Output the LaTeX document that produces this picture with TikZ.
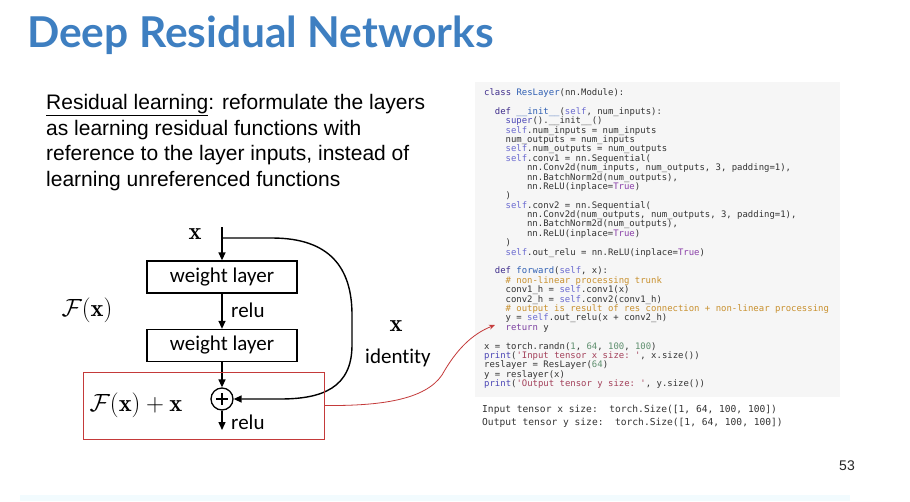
\documentclass[tikz,border=0pt]{standalone}
\usepackage{fontspec}
\usetikzlibrary{arrows.meta}
\newfontfamily\titlefont{Lato}
\newfontfamily\bodyfont{Liberation Sans}
\newfontfamily\labfont{Carlito}[Ligatures=NoCommon]
\setmonofont{DejaVu Sans Mono}
\definecolor{titleblue}{HTML}{3E7FC1}
\definecolor{codebg}{HTML}{F6F6F6}
\definecolor{codetxt}{HTML}{333333}
\definecolor{ckw}{HTML}{3F2D8C}
\definecolor{cnm}{HTML}{2F5FB3}
\definecolor{cself}{HTML}{6A6AD0}
\definecolor{ctrue}{HTML}{8A3FA8}
\definecolor{ccom}{HTML}{C8902E}
\definecolor{cnum}{HTML}{5E8F6E}
\definecolor{cstr}{HTML}{A3405A}
\definecolor{cbi}{HTML}{4A45B5}
\definecolor{cret}{HTML}{7B3FA0}
\definecolor{redbox}{HTML}{C43A3A}
\newcommand\cKw[1]{\textcolor{ckw}{#1}}
\newcommand\cNm[1]{\textcolor{cnm}{#1}}
\newcommand\cSelf[1]{\textcolor{cself}{#1}}
\newcommand\cTrue[1]{\textcolor{ctrue}{#1}}
\newcommand\cCom[1]{\textcolor{ccom}{#1}}
\newcommand\cNum[1]{\textcolor{cnum}{#1}}
\newcommand\cStr[1]{\textcolor{cstr}{#1}}
\newcommand\cBi[1]{\textcolor{cbi}{#1}}
\newcommand\cRet[1]{\textcolor{cret}{#1}}
\newcommand\codeln[4]{\node[codeline] (#1) at ({484+5.36*#2},{95.5+9.39*#3}) {#4};}
\tikzset{
  codeline/.style={anchor=base west, inner sep=0pt, text=codetxt,
    font=\ttfamily\fontsize{8.95}{9.4}\selectfont},
  outline/.style={anchor=base west, inner sep=0pt, text=codetxt,
    font=\ttfamily\fontsize{9.6}{12}\selectfont},
  bodyline/.style={anchor=base west, inner sep=0pt, text=black,
    font=\bodyfont\fontsize{21}{24}\selectfont},
  wlayer/.style={draw, line width=1.3pt, minimum width=150pt, minimum height=32pt,
    inner sep=0pt, font=\labfont\fontsize{21}{22}\selectfont},
  lab/.style={inner sep=0pt, font=\labfont\fontsize{21}{22}\selectfont},
  flow/.style={line width=1.4pt, -{Triangle[length=8pt,width=7pt]}},
  mathlab/.style={inner sep=0pt, font=\fontsize{24.5}{26}\selectfont}
}
\begin{document}
\begin{tikzpicture}[x=1pt,y=-1pt]
\fill[white] (0,0) rectangle (910,501);
\useasboundingbox (0,0) rectangle (910,501);
\fill[cyan!5] (20,495) rectangle (850,501);

% title
\node[anchor=base west, inner sep=0pt, text=titleblue,
  font=\titlefont\bfseries\fontsize{42.5}{44}\selectfont] (title) at (27,47) {Deep Residual Networks};

% paragraph
\node[bodyline] (p1) at (46,109) {\underline{Residual learning}: reformulate the layers};
\node[bodyline] (p2) at (46,135) {as learning residual functions with};
\node[bodyline] (p3) at (46,160) {reference to the layer inputs, instead of};
\node[bodyline] (p4) at (46,186) {learning unreferenced functions};

% code panel background
\fill[codebg] (475,82) rectangle (840,397);

% residual block
\coordinate (xin) at (222,227);
\coordinate (split) at (222,238);
\node[mathlab] (xlab) at (195,234) {$\mathbf{x}$};
\node[wlayer] (w1) at (222,277) {weight layer};
\node[wlayer] (w2) at (222,345.5) {weight layer};
\node[draw, circle, line width=1.3pt, minimum size=22pt, inner sep=0pt] (plus) at (222,399) {};
\draw[line width=1.3pt] ([xshift=-6pt]plus.center) -- ([xshift=6pt]plus.center);
\draw[line width=1.3pt] ([yshift=-6pt]plus.center) -- ([yshift=6pt]plus.center);
\coordinate (out) at (222,430);
\draw[flow] (xin) -- (w1.north);
\draw[flow] (w1.south) -- (w2.north);
\draw[flow] (w2.south) -- (plus.north);
\draw[flow] (plus.south) -- (out);
\draw[flow] (split) -- (272,238) .. controls (330,238) and (352,268) .. (352,315)
  -- (352,345) .. controls (352,388) and (322,399) .. (280,399) -- (plus.east);
\node[lab, anchor=west] (relu1) at (231,310) {relu};
\node[lab, anchor=west] (relu2) at (231,422) {relu};
\node[mathlab] (fx) at (87,310) {$\mathcal{F}(\mathbf{x})$};
\node[mathlab] (fxx) at (136,405) {$\mathcal{F}(\mathbf{x}) + \mathbf{x}$};
\node[mathlab] (xid) at (396,326) {$\mathbf{x}$};
\node[lab] (ident) at (398,358) {identity};

% red box and pointer
\node[draw=redbox, line width=0.9pt, minimum width=241pt, minimum height=67pt, inner sep=0pt]
  (rbox) at (203.5,405.5) {};
\coordinate (tip) at (495,325);
\draw[redbox, line width=0.8pt, -{Stealth[length=6pt,width=5pt]}]
  (rbox.east) .. controls (380,406) and (425,400) .. (442,375)
  .. controls (456,350) and (472,334) .. (tip);

% code
\codeln{c0}{0}{0}{\cKw{class} \cNm{ResLayer}(nn.Module):}
\codeln{c2}{2}{2}{\cKw{def} \cNm{\_\_init\_\_}(\cSelf{self}, num\_inputs):}
\codeln{c3}{4}{3}{\cBi{super}().\_\_init\_\_()}
\codeln{c4}{4}{4}{\cSelf{self}.num\_inputs = num\_inputs}
\codeln{c5}{4}{5}{num\_outputs = num\_inputs}
\codeln{c6}{4}{6}{\cSelf{self}.num\_outputs = num\_outputs}
\codeln{c7}{4}{7}{\cSelf{self}.conv1 = nn.Sequential(}
\codeln{c8}{8}{8}{nn.Conv2d(num\_inputs, num\_outputs, 3, padding=1),}
\codeln{c9}{8}{9}{nn.BatchNorm2d(num\_outputs),}
\codeln{c10}{8}{10}{nn.ReLU(inplace=\cTrue{True})}
\codeln{c11}{4}{11}{)}
\codeln{c12}{4}{12}{\cSelf{self}.conv2 = nn.Sequential(}
\codeln{c13}{8}{13}{nn.Conv2d(num\_outputs, num\_outputs, 3, padding=1),}
\codeln{c14}{8}{14}{nn.BatchNorm2d(num\_outputs),}
\codeln{c15}{8}{15}{nn.ReLU(inplace=\cTrue{True})}
\codeln{c16}{4}{16}{)}
\codeln{c17}{4}{17}{\cSelf{self}.out\_relu = nn.ReLU(inplace=\cTrue{True})}
\codeln{c19}{2}{19}{\cKw{def} \cNm{forward}(\cSelf{self}, x):}
\codeln{c20}{4}{20}{\cCom{\# non-linear processing trunk}}
\codeln{c21}{4}{21}{conv1\_h = \cSelf{self}.conv1(x)}
\codeln{c22}{4}{22}{conv2\_h = \cSelf{self}.conv2(conv1\_h)}
\codeln{c23}{4}{23}{\cCom{\# output is result of res connection + non-linear processing}}
\codeln{c24}{4}{24}{y = \cSelf{self}.out\_relu(x + conv2\_h)}
\codeln{c25}{4}{25}{\cRet{return} y}
\codeln{c27}{0}{27}{x = torch.randn(\cNum{1}, \cNum{64}, \cNum{100}, \cNum{100})}
\codeln{c28}{0}{28}{\cBi{print}(\cStr{'Input tensor x size: '}, x.size())}
\codeln{c29}{0}{29}{reslayer = ResLayer(\cNum{64})}
\codeln{c30}{0}{30}{y = reslayer(x)}
\codeln{c31}{0}{31}{\cBi{print}(\cStr{'Output tensor y size: '}, y.size())}

\node[outline] (o1) at (482,412.5) {Input tensor x size:\ \ torch.Size([1, 64, 100, 100])};
\node[outline] (o2) at (482,425.5) {Output tensor y size:\ \ torch.Size([1, 64, 100, 100])};

% page number
\node[anchor=base, inner sep=0pt, text=black!85,
  font=\bodyfont\fontsize{14}{16}\selectfont] (pg) at (847,470) {53};
\end{tikzpicture}
\end{document}
